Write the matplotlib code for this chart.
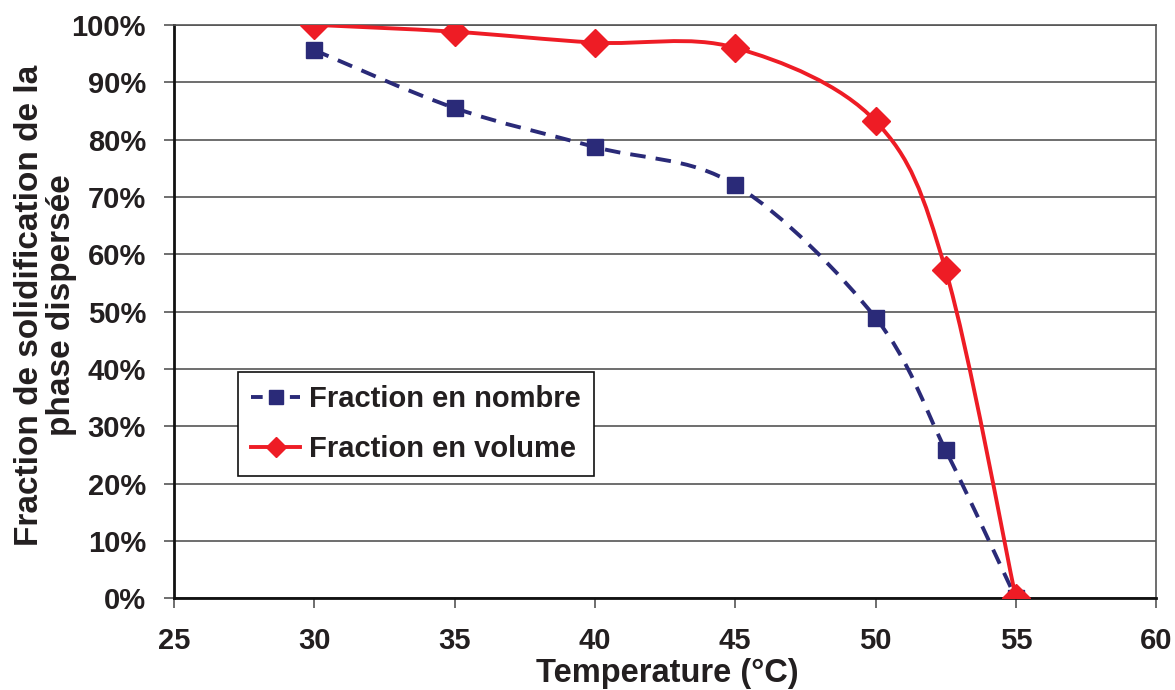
import matplotlib.pyplot as plt
import numpy as np
from matplotlib.path import Path
from matplotlib.patches import PathPatch
from matplotlib.lines import Line2D
from matplotlib.ticker import FuncFormatter

# données
temperature = [30, 35, 40, 45, 50, 52.5, 55]
fraction_nombre = [95.6, 85.5, 78.7, 72.1, 48.9, 25.8, 0.0]
fraction_volume = [100.0, 98.8, 96.9, 96.0, 83.2, 57.2, 0.0]

x_ticks = [25, 30, 35, 40, 45, 50, 55, 60]
y_ticks = [0, 10, 20, 30, 40, 50, 60, 70, 80, 90, 100]

bleu = '#2a2a78'
rouge = '#ee1c25'
texte = '#231f20'

plt.rcParams['font.family'] = ['Liberation Sans', 'DejaVu Sans']
plt.rcParams['font.weight'] = 'bold'


def courbe_lissee(xs, ys):
    # lissage type Excel (Catmull-Rom -> Bezier cubique)
    pts = np.column_stack([xs, ys]).astype(float)
    n = len(pts)
    verts = [pts[0]]
    codes = [Path.MOVETO]
    for i in range(n - 1):
        p0 = pts[i - 1] if i > 0 else pts[i]
        p1 = pts[i]
        p2 = pts[i + 1]
        p3 = pts[i + 2] if i + 2 < n else pts[i + 1]
        c1 = p1 + (p2 - p0) / 6.0
        c2 = p2 - (p3 - p1) / 6.0
        verts += [c1, c2, p2]
        codes += [Path.CURVE4] * 3
    return Path(verts, codes)


fig = plt.figure(figsize=(11.75, 6.9), dpi=100)
ax = fig.add_axes([0.148, 0.133, 0.836, 0.831])

# courbes
p1 = PathPatch(courbe_lissee(temperature, fraction_nombre), facecolor='none',
               edgecolor=bleu, lw=2.8, linestyle=(0, (4, 2.6)), zorder=3)
p2 = PathPatch(courbe_lissee(temperature, fraction_volume), facecolor='none',
               edgecolor=rouge, lw=2.8, zorder=4)
ax.add_patch(p1)
ax.add_patch(p2)
ax.plot(temperature, fraction_nombre, linestyle='none', marker='s', ms=12,
        color=bleu, zorder=5)
ax.plot(temperature, fraction_volume, linestyle='none', marker='D', ms=14,
        color=rouge, zorder=6)

ax.set_xlim(25, 60)
ax.set_ylim(0, 100)
ax.set_xticks(x_ticks)
ax.set_yticks(y_ticks)
ax.yaxis.set_major_formatter(FuncFormatter(lambda v, p: '%d%%' % v))
ax.grid(axis='y', color='#555555', lw=1.2, zorder=1)
ax.set_axisbelow(True)

for s in ['left', 'bottom']:
    ax.spines[s].set_linewidth(2)
    ax.spines[s].set_color('#111111')
for s in ['top', 'right']:
    ax.spines[s].set_linewidth(1.2)
    ax.spines[s].set_color('#555555')

ax.tick_params(axis='both', direction='out', length=7, width=1.2,
               labelsize=21, color='#555555', labelcolor=texte)
ax.tick_params(axis='x', pad=14)
ax.tick_params(axis='y', pad=13)

# titres des axes
fig.text(0.568, 0.012, 'Temperature (°C)', ha='center', va='baseline',
         fontsize=23.5, fontweight='bold', color=texte)
fig.text(0.039, 0.558, 'Fraction de solidification de la\nphase dispersée',
         rotation=90, ha='center', va='center', multialignment='center',
         fontsize=24, fontweight='bold', color=texte, linespacing=1.05)

handles = [Line2D([], [], color=bleu, lw=2.8, linestyle=(0, (3, 2)),
                  marker='s', ms=10),
           Line2D([], [], color=rouge, lw=2.8, marker='D', ms=10)]
leg = ax.legend(handles, ['Fraction en nombre', 'Fraction en volume'],
                loc='upper left', bbox_to_anchor=(0.065, 0.394),
                fontsize=21, frameon=True, fancybox=False, framealpha=1,
                edgecolor='#111111', handlelength=1.7, handletextpad=0.3,
                borderpad=0.45, labelspacing=0.75, borderaxespad=0)
leg.get_frame().set_linewidth(1.2)
for t in leg.get_texts():
    t.set_color(texte)

plt.savefig('out.png', dpi=100)
